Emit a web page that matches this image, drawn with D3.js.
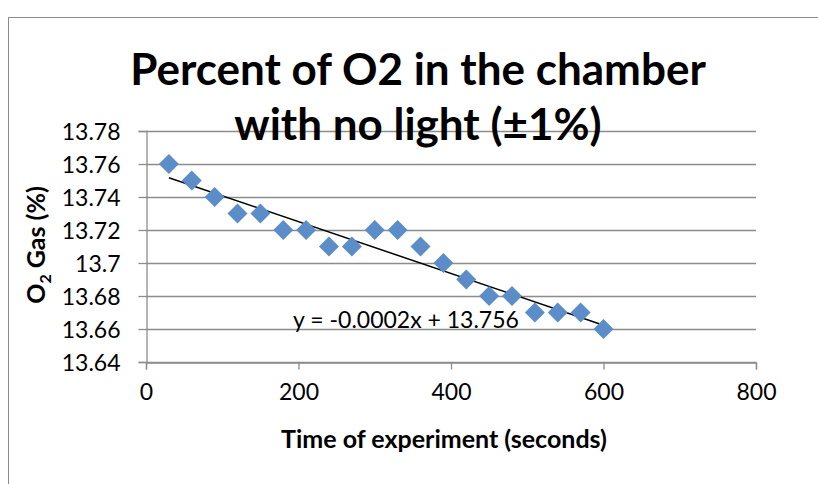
<!DOCTYPE html>
<html>
<head>
<meta charset="utf-8">
<script src="https://cdn.jsdelivr.net/npm/d3@7"></script>
<style>
  body { margin: 0; background: #fff; }
  text { font-family: Lato, "Open Sans", sans-serif; }
</style>
</head>
<body>
<div id="chart"></div>
<script>
// window size
var w = 818;
var h = 484;

// data
var times = [30, 60, 90, 120, 150, 180, 210, 240, 270, 300, 330, 360, 390, 420, 450, 480, 510, 540, 570, 600];
var o2 = [13.76, 13.75, 13.74, 13.73, 13.73, 13.72, 13.72, 13.71, 13.71, 13.72, 13.72, 13.71, 13.70, 13.69, 13.68, 13.68, 13.67, 13.67, 13.67, 13.66];
var xTicks = [0, 200, 400, 600, 800];
var yTicks = [13.64, 13.66, 13.68, 13.7, 13.72, 13.74, 13.76, 13.78];
var titleLines = ["Percent of O2 in the chamber", "with no light (±1%)"];
var equation = "y = -0.0002x + 13.756";

var svg = d3.select('#chart').append('svg')
            .attr('width', w)
            .attr('height', h);

// chart frame (runs off the right and bottom like the original)
svg.append('rect')
   .attr('x', 8.5).attr('y', 17.5)
   .attr('width', 900).attr('height', 600)
   .attr('fill', 'none')
   .attr('stroke', '#8c8c8c');

var x = d3.scaleLinear().domain([0, 800]).range([146, 756]);
var y = d3.scaleLinear().domain([13.64, 13.78]).range([362, 131]);

// gridlines
svg.append('g')
   .selectAll('line')
   .data(yTicks)
 .enter().append('line')
   .attr('x1', x(0)).attr('x2', x(800))
   .attr('y1', d => Math.round(y(d)) + 0.5)
   .attr('y2', d => Math.round(y(d)) + 0.5)
   .attr('stroke', '#8c8c8c')
   .attr('stroke-width', 1.3);

// axes
var xAxis = svg.append('g')
   .attr('transform', 'translate(0,' + (Math.round(y(13.64)) + 0.5) + ')')
   .call(d3.axisBottom(x).tickValues(xTicks).tickSize(7).tickPadding(20).tickFormat(d3.format('d')));

var yAxis = svg.append('g')
   .attr('transform', 'translate(' + (x(0) + 0.5) + ',0)')
   .call(d3.axisLeft(y).tickValues(yTicks).tickSize(8).tickPadding(18)
          .tickFormat(d => d3.format('')(d)));

[xAxis, yAxis].forEach(function(g) {
  g.select('.domain').attr('stroke', '#8c8c8c').attr('stroke-width', 1.3);
  g.selectAll('.tick line').attr('stroke', '#8c8c8c').attr('stroke-width', 1.3);
  g.selectAll('.tick text')
   .attr('fill', '#000')
   .style('font-family', 'Lato, sans-serif')
   .style('font-size', '23px');
});
xAxis.selectAll('.tick text').attr('dy', '0.45em');
yAxis.selectAll('.tick text').attr('dy', '0.36em');

// least squares trendline
var mx = d3.mean(times), my = d3.mean(o2);
var sxy = d3.sum(times, (t, i) => (t - mx) * (o2[i] - my));
var sxx = d3.sum(times, t => (t - mx) * (t - mx));
var slope = sxy / sxx;
var intercept = my - slope * mx;
var tx = d3.extent(times);

svg.append('line')
   .attr('x1', x(tx[0])).attr('y1', y(intercept + slope * tx[0]))
   .attr('x2', x(tx[1])).attr('y2', y(intercept + slope * tx[1]))
   .attr('stroke', '#000')
   .attr('stroke-width', 1.5);

// diamond markers
var diamond = d3.symbol().type(d3.symbolSquare).size(200);
svg.append('g')
   .selectAll('path')
   .data(times)
 .enter().append('path')
   .attr('d', diamond)
   .attr('transform', (t, i) => 'translate(' + x(t) + ',' + y(o2[i]) + ') rotate(45)')
   .attr('fill', '#5b8ec8');

// equation label
svg.append('text')
   .attr('x', 406).attr('y', 328)
   .attr('text-anchor', 'middle')
   .style('font-size', '23px')
   .text(equation);

// title
svg.append('g')
   .selectAll('text')
   .data(titleLines)
 .enter().append('text')
   .attr('x', 418)
   .attr('y', (d, i) => 85 + i * 55)
   .attr('text-anchor', 'middle')
   .style('font-size', '44px')
   .style('font-weight', 'bold')
   .text(d => d);

// axis titles
svg.append('text')
   .attr('x', 444).attr('y', 448)
   .attr('text-anchor', 'middle')
   .style('font-size', '25px')
   .style('font-weight', 'bold')
   .text('Time of experiment (seconds)');

var yt = svg.append('text')
   .attr('transform', 'translate(45,245) rotate(-90)')
   .attr('text-anchor', 'middle')
   .style('font-size', '25px')
   .style('font-weight', 'bold');
yt.append('tspan').text('O');
yt.append('tspan').attr('dy', 6).style('font-size', '16px').text('2');
yt.append('tspan').attr('dy', -6).text(' Gas (%)');
</script>
</body>
</html>
